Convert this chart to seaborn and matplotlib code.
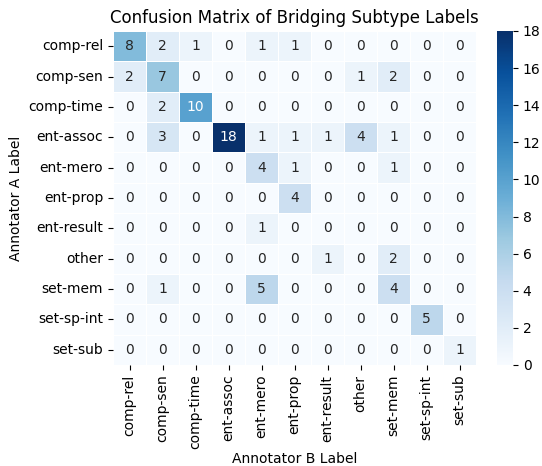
import numpy as np
import pandas as pd
import matplotlib
matplotlib.use("Agg")
import matplotlib.pyplot as plt
import seaborn as sns

labels = ["comp-rel", "comp-sen", "comp-time", "ent-assoc", "ent-mero", "ent-prop",
          "ent-result", "other", "set-mem", "set-sp-int", "set-sub"]

counts = [
    [8, 2, 1, 0, 1, 1, 0, 0, 0, 0, 0],
    [2, 7, 0, 0, 0, 0, 0, 1, 2, 0, 0],
    [0, 2, 10, 0, 0, 0, 0, 0, 0, 0, 0],
    [0, 3, 0, 18, 1, 1, 1, 4, 1, 0, 0],
    [0, 0, 0, 0, 4, 1, 0, 0, 1, 0, 0],
    [0, 0, 0, 0, 0, 4, 0, 0, 0, 0, 0],
    [0, 0, 0, 0, 1, 0, 0, 0, 0, 0, 0],
    [0, 0, 0, 0, 0, 0, 1, 0, 2, 0, 0],
    [0, 1, 0, 0, 5, 0, 0, 0, 4, 0, 0],
    [0, 0, 0, 0, 0, 0, 0, 0, 0, 5, 0],
    [0, 0, 0, 0, 0, 0, 0, 0, 0, 0, 1],
]

df = pd.DataFrame(np.array(counts), index=labels, columns=labels)

fig = plt.figure(figsize=(5.42, 4.66), dpi=100)
ax = fig.add_axes([113 / 542, 1 - 365 / 466, 363 / 542, 334 / 466])
cax = fig.add_axes([497 / 542, 1 - 365 / 466, 16 / 542, 334 / 466])
sns.heatmap(df, annot=True, fmt="d", cmap="Blues", linewidths=0.5, linecolor="white",
            ax=ax, cbar_ax=cax)
ax.set_title("Confusion Matrix of Bridging Subtype Labels")
ax.set_xlabel("Annotator B Label", labelpad=1.5)
ax.set_ylabel("Annotator A Label")
plt.setp(ax.get_xticklabels(), rotation=90)
plt.setp(ax.get_yticklabels(), rotation=0)
fig.savefig("out.png", dpi=100)
